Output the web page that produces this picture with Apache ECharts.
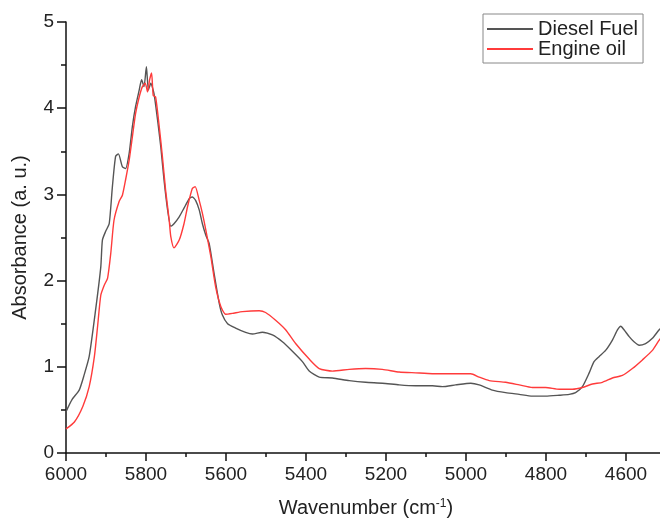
<!DOCTYPE html>
<html lang="en">
<head>
    <meta charset="UTF-8">
    <title>NIR spectra</title>
    <style>
        html, body { margin: 0; padding: 0; background: #fff; }
        #main { width: 660px; height: 520px; }
    </style>
</head>
<body>
<div id="main"></div>
<script src="https://cdn.jsdelivr.net/npm/echarts@6/dist/echarts.min.js"></script>
<script type="text/javascript">
    // spectra (wavenumber in cm-1, absorbance in a.u.)
    var dieselWn = [6000, 5985, 5967, 5955, 5942, 5926, 5913, 5909, 5901, 5892, 5884, 5876, 5869, 5859, 5851,
        5842, 5834, 5826, 5817, 5811, 5805, 5799, 5794, 5788, 5780, 5771, 5763, 5755, 5746, 5738, 5730, 5717,
        5705, 5692, 5684, 5676, 5667, 5659, 5650, 5642, 5630, 5617, 5609, 5596, 5576, 5551, 5534, 5509, 5484,
        5459, 5434, 5409, 5392, 5367, 5334, 5292, 5251, 5209, 5167, 5126, 5084, 5059, 5026, 4988, 4967, 4934,
        4901, 4867, 4834, 4801, 4767, 4742, 4726, 4709, 4692, 4680, 4667, 4651, 4634, 4621, 4613, 4605, 4592,
        4580, 4567, 4551, 4534, 4517, 4505];
    var dieselAbs = [0.48, 0.62, 0.73, 0.90, 1.12, 1.66, 2.16, 2.47, 2.57, 2.66, 3.09, 3.44, 3.47, 3.32, 3.30,
        3.48, 3.79, 4.02, 4.21, 4.33, 4.25, 4.48, 4.21, 4.29, 4.17, 3.86, 3.55, 3.17, 2.82, 2.63, 2.66, 2.74,
        2.84, 2.95, 2.97, 2.93, 2.82, 2.66, 2.52, 2.43, 2.09, 1.74, 1.60, 1.50, 1.45, 1.40, 1.38, 1.40, 1.37,
        1.29, 1.18, 1.06, 0.95, 0.88, 0.87, 0.84, 0.82, 0.81, 0.79, 0.78, 0.78, 0.77, 0.79, 0.81, 0.79, 0.73,
        0.70, 0.68, 0.66, 0.66, 0.67, 0.68, 0.70, 0.77, 0.93, 1.06, 1.12, 1.19, 1.31, 1.43, 1.47, 1.43, 1.35,
        1.29, 1.25, 1.27, 1.33, 1.43, 1.48];

    var oilWn = [6000, 5979, 5958, 5942, 5929, 5921, 5913, 5904, 5896, 5888, 5880, 5867, 5859, 5851, 5842,
        5834, 5826, 5817, 5809, 5802, 5796, 5791, 5786, 5782, 5776, 5767, 5759, 5751, 5742, 5738, 5730, 5717,
        5705, 5696, 5684, 5677, 5667, 5659, 5651, 5638, 5626, 5613, 5601, 5584, 5559, 5517, 5501, 5476, 5451,
        5426, 5392, 5367, 5334, 5292, 5251, 5209, 5167, 5126, 5084, 5042, 4988, 4967, 4942, 4901, 4867, 4834,
        4801, 4767, 4734, 4709, 4684, 4659, 4634, 4609, 4584, 4559, 4534, 4517, 4505];
    var oilAbs = [0.28, 0.36, 0.54, 0.77, 1.12, 1.47, 1.83, 1.95, 2.03, 2.32, 2.70, 2.92, 2.99, 3.17, 3.40,
        3.67, 3.94, 4.13, 4.25, 4.29, 4.19, 4.33, 4.41, 4.15, 4.13, 3.79, 3.44, 3.05, 2.70, 2.51, 2.38, 2.47,
        2.66, 2.86, 3.07, 3.09, 2.93, 2.78, 2.60, 2.28, 1.93, 1.70, 1.61, 1.62, 1.64, 1.65, 1.63, 1.54, 1.43,
        1.27, 1.09, 0.98, 0.95, 0.97, 0.98, 0.97, 0.94, 0.93, 0.92, 0.92, 0.92, 0.88, 0.84, 0.82, 0.79, 0.76,
        0.76, 0.74, 0.74, 0.76, 0.80, 0.82, 0.87, 0.90, 0.98, 1.08, 1.19, 1.31, 1.38];

    var xTickLabels = [6000, 5800, 5600, 5400, 5200, 5000, 4800, 4600];
    var yTickLabels = [0, 1, 2, 3, 4, 5];

    function pairs(xs, ys) {
        var out = [];
        for (var i = 0; i < xs.length; i++) {
            out.push([xs[i], ys[i]]);
        }
        return out;
    }

    var font = 'Liberation Sans, Arial, sans-serif';
    var myChart = echarts.init(document.getElementById('main'));

    var option = {
        animation: false,
        backgroundColor: '#fff',
        textStyle: {fontFamily: font},
        grid: {
            left: 66,
            top: 22,
            bottom: 67,
            right: -46,   // figure is cut off on the right, axis runs past the edge
            outerBoundsMode: 'none',
            containLabel: false
        },
        legend: {
            orient: 'vertical',
            left: 483,
            top: 14,
            padding: [5, 5, 4, 4],
            itemGap: 0,
            itemWidth: 46,
            itemHeight: 2,
            icon: 'rect',
            borderColor: '#888',
            borderWidth: 1,
            textStyle: {fontSize: 20, color: '#222', fontFamily: font, padding: [0, 0, 0, 0]}
        },
        xAxis: {
            type: 'value',
            inverse: true,
            min: 4400,
            max: 6000,
            interval: 200,
            name: 'Wavenumber (cm{sup|-1})',
            nameLocation: 'middle',
            nameGap: 45,
            nameTextStyle: {
                fontSize: 20,
                color: '#222',
                padding: [0, 40, 0, 0],
                rich: {sup: {fontSize: 12, verticalAlign: 'top', padding: [0, 0, 9, 0], color: '#222'}}
            },
            axisLine: {lineStyle: {color: '#111', width: 1.5}},
            axisTick: {show: true, inside: false, length: 8, lineStyle: {color: '#111', width: 1.5}},
            minorTick: {show: true, splitNumber: 2, length: 4, lineStyle: {color: '#111', width: 1.5}},
            axisLabel: {
                fontSize: 19,
                color: '#222',
                margin: 12,
                formatter: function (v) {
                    return xTickLabels.indexOf(v) >= 0 ? String(v) : '';
                }
            },
            splitLine: {show: false}
        },
        yAxis: {
            type: 'value',
            min: 0,
            max: 5,
            interval: 1,
            name: 'Absorbance (a. u.)',
            nameLocation: 'middle',
            nameGap: 36,
            nameTextStyle: {fontSize: 20, color: '#222'},
            axisLine: {show: true, lineStyle: {color: '#111', width: 1.5}},
            axisTick: {show: true, inside: false, length: 9, lineStyle: {color: '#111', width: 1.5}},
            minorTick: {show: true, splitNumber: 2, length: 5, lineStyle: {color: '#111', width: 1.5}},
            axisLabel: {
                fontSize: 19,
                color: '#222',
                margin: 12,
                formatter: function (v) {
                    return yTickLabels.indexOf(v) >= 0 ? String(v) : '';
                }
            },
            splitLine: {show: false}
        },
        series: [
            {
                name: 'Diesel Fuel',
                type: 'line',
                symbol: 'none',
                smooth: 0.2,
                lineStyle: {color: '#555', width: 1.4},
                itemStyle: {color: '#555'},
                data: pairs(dieselWn, dieselAbs)
            },
            {
                name: 'Engine oil',
                type: 'line',
                symbol: 'none',
                smooth: 0.2,
                lineStyle: {color: '#ff3b3b', width: 1.4},
                itemStyle: {color: '#ff3b3b'},
                data: pairs(oilWn, oilAbs)
            }
        ]
    };

    myChart.setOption(option);
</script>
</body>
</html>
